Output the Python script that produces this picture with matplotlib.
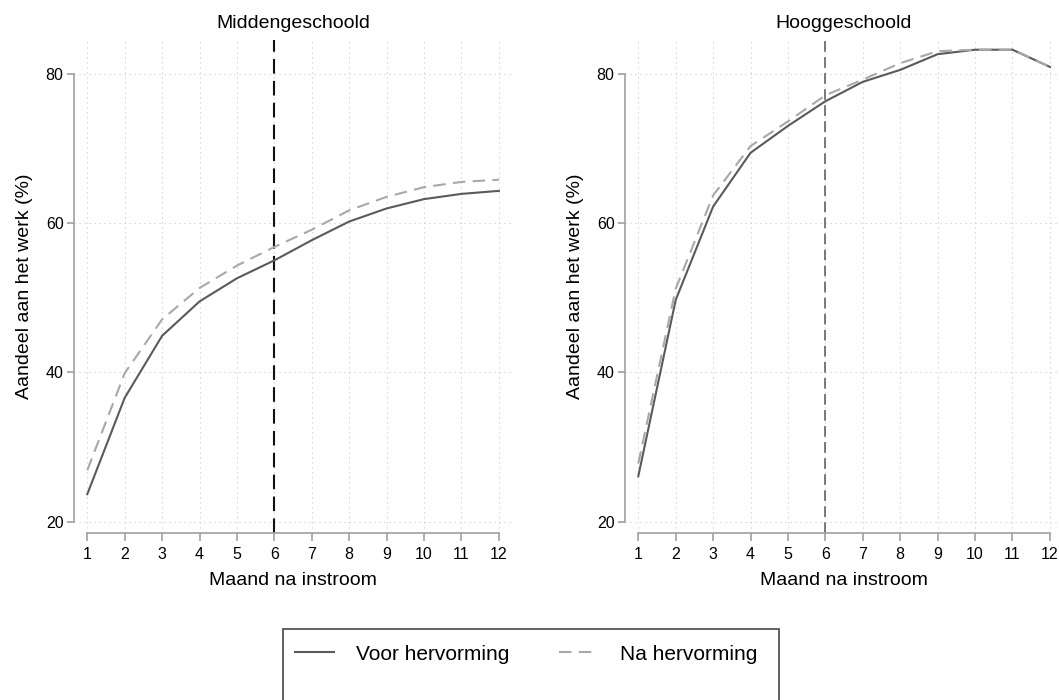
import matplotlib
matplotlib.use("Agg")
import matplotlib.pyplot as plt
from matplotlib.patches import Rectangle
from matplotlib.lines import Line2D

plt.rcParams['font.family'] = ['Liberation Sans', 'DejaVu Sans']

# --- data ------------------------------------------------------------
maand = [1, 2, 3, 4, 5, 6, 7, 8, 9, 10, 11, 12]

midden_voor = [23.7, 36.6, 44.9, 49.5, 52.6, 55.0, 57.7, 60.2, 61.95, 63.2, 63.9, 64.3]
midden_na = [26.9, 39.9, 47.1, 51.3, 54.3, 56.8, 59.1, 61.7, 63.5, 64.8, 65.5, 65.8]

hoog_voor = [26.1, 49.7, 62.2, 69.4, 73.0, 76.3, 78.9, 80.5, 82.6, 83.2, 83.2, 80.9]
hoog_na = [27.8, 51.2, 63.7, 70.3, 73.6, 77.1, 79.2, 81.4, 83.0, 83.2, 83.2, 80.9]

panels = ["Middengeschoold", "Hooggeschoold"]
reform_month = 6
yticks = [20, 40, 60, 80]

solid_col = '#5a5a5a'
dash_col = '#a8a8a8'
axis_col = '#a0a0a0'

# --- figure ----------------------------------------------------------
fig = plt.figure(figsize=(10.59, 7.0), dpi=100)
ax_l = fig.add_axes([74 / 1059, 167 / 700, 438 / 1059, 493 / 700])
ax_r = fig.add_axes([625 / 1059, 167 / 700, 438 / 1059, 493 / 700])

series = [(midden_voor, midden_na), (hoog_voor, hoog_na)]
vline_style = [dict(color='#111111', lw=1.5), dict(color='#555555', lw=1.1)]

for ax, title, (voor, na), vst in zip([ax_l, ax_r], panels, series, vline_style):
    ax.set_xlim(0.645, 12.35)
    ax.set_ylim(18.5, 84.5)

    # dotted grid
    for x in maand:
        ax.axvline(x, color='#c8c8c8', lw=0.8, ls=(0, (1, 3.5)), zorder=0)
    for y in yticks:
        ax.axhline(y, color='#c8c8c8', lw=0.8, ls=(0, (1, 3.5)), zorder=0)

    ax.axvline(reform_month, ls=(0, (7, 3.5)), zorder=2, **vst)

    ax.plot(maand, voor, color=solid_col, lw=1.5, zorder=3, label='Voor hervorming')
    ax.plot(maand, na, color=dash_col, lw=1.5, ls=(0, (6, 3.5)), zorder=3,
            label='Na hervorming')

    ax.set_title(title, fontsize=14, pad=9)
    ax.set_xlabel("Maand na instroom", fontsize=14, labelpad=7)
    ax.set_ylabel("Aandeel aan het werk (%)", fontsize=14, labelpad=9)

    ax.set_xticks(maand)
    ax.set_yticks(yticks)
    ax.tick_params(axis='both', labelsize=11.5, colors=axis_col, labelcolor='black',
                   width=1.2)
    ax.tick_params(axis='x', length=6, pad=4)
    ax.tick_params(axis='y', length=5, pad=2.5)

    for side in ['top', 'right']:
        ax.spines[side].set_visible(False)
    ax.spines['left'].set_bounds(20, 80)
    ax.spines['bottom'].set_bounds(1, 12)
    for side in ['left', 'bottom']:
        ax.spines[side].set_color(axis_col)
        ax.spines[side].set_linewidth(1.2)
    ax.patch.set_visible(False)

# --- legend ----------------------------------------------------------
fig.patches.append(Rectangle((283 / 1059, -0.05), 496 / 1059, (700 - 629) / 700 + 0.05,
                             transform=fig.transFigure, fill=False,
                             edgecolor='#555555', lw=1.3))
handles = [Line2D([], [], color=solid_col, lw=1.5),
           Line2D([], [], color=dash_col, lw=1.5, ls=(0, (6, 3.5)))]
fig.legend(handles, ['Voor hervorming', 'Na hervorming'], loc='center left',
           bbox_to_anchor=(285 / 1059, 1 - 654 / 700), ncol=2, frameon=False,
           fontsize=15, borderpad=0, handlelength=1.83, handletextpad=1.1,
           columnspacing=2.36)

fig.savefig("out.png", dpi=100)
